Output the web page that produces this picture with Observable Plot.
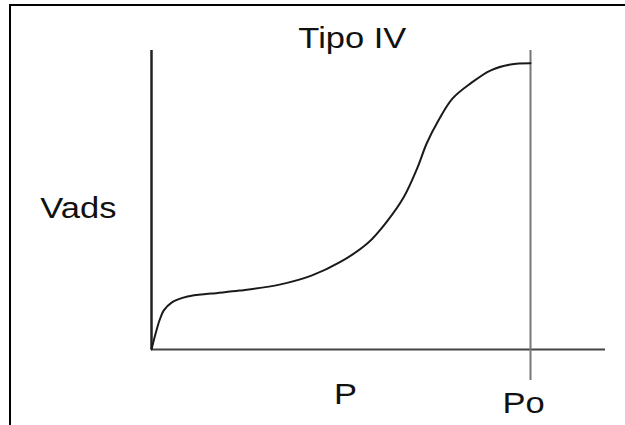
<!DOCTYPE html>
<html><head><meta charset="utf-8">
<script src="https://cdn.jsdelivr.net/npm/d3@7"></script>
<script src="https://cdn.jsdelivr.net/npm/@observablehq/plot@0.6"></script>
<style>
html,body{margin:0;padding:0;background:#fff;}
#wrap{position:relative;width:625px;height:425px;overflow:hidden;}
#frame{position:absolute;left:9px;top:4px;width:700px;height:500px;border-top:2px solid #000;border-left:2px solid #000;}
</style></head><body><div id="wrap"><div id="chart"></div><div id="frame"></div></div>
<script>
// Relative pressure P/Po (0..1) and adsorbed volume (arbitrary units)
const pressure = [0, 0.011, 0.021, 0.032, 0.053, 0.095, 0.158, 0.232, 0.338, 0.422, 0.496, 0.570, 0.623, 0.665, 0.702, 0.726, 0.757, 0.794, 0.842, 0.894, 0.947, 1.0];
const adsorbed = [0, 0.054, 0.097, 0.130, 0.157, 0.177, 0.187, 0.197, 0.217, 0.247, 0.291, 0.355, 0.431, 0.508, 0.609, 0.689, 0.766, 0.839, 0.890, 0.933, 0.953, 0.957];
const titleText = "Tipo IV";
const labelText = ["Vads", "P", "Po"];
const labelX = [-0.193, 0.512, 0.982];
const labelY = [0.441, -0.181, -0.211];
const saturation = [1];

const curve = pressure.map((p, i) => ({p, v: adsorbed[i]}));
const labels = labelText.map((t, i) => ({t, x: labelX[i], y: labelY[i]}));

const chart = Plot.plot({
  width: 625, height: 425,
  marginTop: 0, marginRight: 0, marginBottom: 0, marginLeft: 0,
  x: {domain: [0, 1], range: [151, 530], axis: null},
  y: {domain: [0, 1], range: [349, 50], axis: null},
  style: {background: "#fff", overflow: "visible"},
  marks: [
    Plot.ruleY([0], {x1: 0, x2: 1.198, stroke: "#444", strokeWidth: 2}),
    Plot.ruleX(saturation, {y1: -0.104, y2: 1, stroke: "#777", strokeWidth: 2}),
    Plot.ruleX([0], {y1: 0, y2: 1, stroke: "#222", strokeWidth: 2.5}),
    Plot.line(curve, {x: "p", y: "v", curve: "catmull-rom", stroke: "#1a1a1a", strokeWidth: 2}),
    Plot.text([titleText], {x: 0.53, y: 1.007, text: d => d, lineAnchor: "bottom", fontSize: 30, fontFamily: "Liberation Sans", fill: "#111"}),
    Plot.text(labels, {x: "x", y: "y", text: "t", lineAnchor: "bottom", fontSize: 30, fontFamily: "Liberation Sans", fill: "#111"})
  ]
});
document.getElementById("chart").appendChild(chart);
d3.select(chart).selectAll("text").each(function() {
  const w = this.getComputedTextLength();
  this.setAttribute("textLength", (w * 1.15).toFixed(1));
  this.setAttribute("lengthAdjust", "spacingAndGlyphs");
});
</script></body></html>
